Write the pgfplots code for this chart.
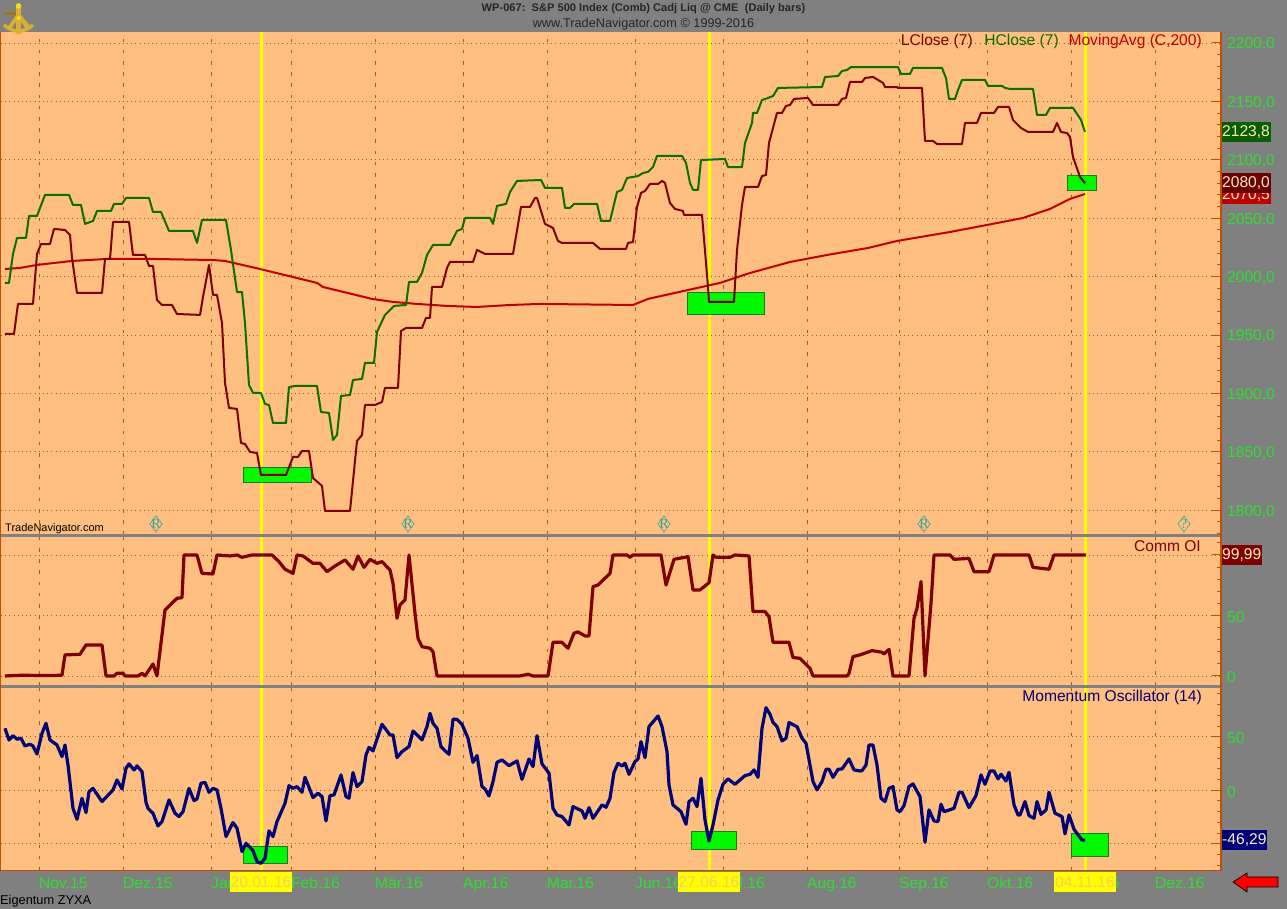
\documentclass[border=0pt]{standalone}
\usepackage{pgfplots}
\pgfplotsset{compat=1.18}
\usepackage{fontspec}
\setmainfont{Liberation Sans}
\newfontfamily\rfont{Liberation Serif}

\definecolor{chartbg}{HTML}{FFBF80}
\definecolor{chrome}{HTML}{808080}
\definecolor{edge}{HTML}{C04F00}
\definecolor{gridc}{HTML}{A85A14}
\definecolor{lbl}{HTML}{2EE02E}
\definecolor{lclose}{HTML}{7F0000}
\definecolor{hclose}{HTML}{0A6E00}
\definecolor{ma}{HTML}{C00000}
\definecolor{navyc}{HTML}{000078}
\definecolor{boxg}{HTML}{00F800}
\definecolor{boxe}{HTML}{1A7A1A}
\definecolor{ye}{HTML}{FFFF00}
\definecolor{yetext}{HTML}{FFC860}
\definecolor{diam}{HTML}{30A898}
\definecolor{tagtext}{HTML}{F4EFC0}
\definecolor{gold}{HTML}{D8B030}
\definecolor{golddark}{HTML}{9A7A10}

\pgfplotsset{
    panel/.style={
        scale only axis,
        width=1220pt,
        xmin=1, xmax=1221,
        axis line style={draw=none},
        axis background/.style={fill=chartbg},
        xtick={39,123,211,291,375,463,547,635,723,807,899,987,1071,1155},
        xticklabels={},
        xmajorgrids, ymajorgrids,
        x grid style={color=gridc, line width=0.9pt, dash pattern=on 3.5pt off 7.7pt},
        y grid style={color=gridc, line width=0.9pt, dash pattern=on 1pt off 3.2pt},
        tick align=inside,
        xtick style={draw=none},
        ytick pos=right,
        ytick style={color=edge, line width=1pt},
        major tick length=9pt,
        minor tick length=4pt,
        yticklabel style={font=\fontsize{15.6}{18}\selectfont, text=lbl, anchor=west, inner sep=0pt, xshift=6pt, yshift=-1.5pt},
    },
    yline/.style={ye, line width=3pt, forget plot},
    hit/.style={fill=boxg, draw=boxe, line width=0.8pt},
    curve/.style={line width=#1, line join=round},
}

\begin{document}
\begin{tikzpicture}
\path[use as bounding box, fill=chrome] (0,0) rectangle (1287pt,909pt);

% price panel
\begin{axis}[panel, at={(1pt,374pt)}, anchor=south west, height=503pt,
    ymin=1778.8, ymax=2209.4,
    ytick={1800,1850,1900,1950,2000,2050,2100,2150,2200},
    yticklabels={{1800,0},{1850,0},{1900,0},{1950,0},{2000,0},{2050,0},{2100,0},{2150,0},{2200,0}},
    minor ytick={1780,1790,...,2200},
]
\addplot[yline] coordinates {(261,1778.8) (261,2209.4)};
\addplot[yline] coordinates {(709,1778.8) (709,2209.4)};
\addplot[yline] coordinates {(1085,1778.8) (1085,2209.4)};
\addplot[hit] coordinates {(243,1824.2) (311,1824.2) (311,1837) (243,1837)} --cycle;
\addplot[hit] coordinates {(687,1968) (764,1968) (764,1986.8) (687,1986.8)} --cycle;
\addplot[hit] coordinates {(1067,2074.2) (1096,2074.2) (1096,2087) (1067,2087)} --cycle;
% 200 bar average
\addplot[ma, curve=2pt] coordinates {
(5,2006.5)(20,2007.4)(37,2010)(72,2013.4)(107,2015.1)(153,2015.1)(213,2014.2)(225,2013.4)
(260,2006.5)(317,1994.6)(323,1991.1)(372,1980.9)(393,1978.3)(417,1976.6)(447,1974.9)(477,1974)
(510,1975.7)(540,1976.6)(633,1975.7)(648,1980.9)(720,1994.6)(750,2003.1)(790,2012.5)(827,2018.5)
(868,2024.5)(897,2030.5)(950,2038.2)(987,2044.2)(1023,2050.2)(1050,2057.9)(1070,2066.5)(1085,2070.7)
};
% highest close
\addplot[hclose, curve=2pt] coordinates {
(5,1994.6)(9,1994.6)(13,2019.4)(17,2033.1)(26,2033.1)(29,2051.9)(37,2051.9)(45,2069.9)(69,2069.9)
(73,2061.3)(81,2061.3)(85,2045.1)(93,2047.6)(97,2056.2)(111,2056.2)(114,2062.2)(122,2062.2)
(126,2067.3)(149,2067.3)(153,2055.3)(161,2055.3)(169,2039.1)(193,2039.1)(197,2028.8)(202,2048.5)
(226,2048.5)(231,2022.8)(237,1986.8)(242,1986.8)(245,1960.3)(249,1907.2)(253,1900.4)(261,1900.4)
(265,1891)(269,1890.1)(273,1874.7)(286,1874.7)(289,1905.5)(295,1906.4)(317,1906.4)(321,1884.1)
(329,1883.3)(333,1860.2)(337,1864.4)(341,1897.8)(350,1898.7)(353,1911.5)(362,1912.4)(365,1926.1)
(374,1926.1)(377,1952.6)(385,1967.2)(394,1974.9)(406,1975.7)(409,1995.4)(417,1995.4)(422,2003.1)
(427,2018.5)(433,2027.1)(450,2027.1)(457,2039.1)(462,2040.8)(465,2050.2)(490,2050.2)(493,2045.1)
(497,2060.5)(506,2062.2)(510,2072.4)(517,2081.9)(541,2082.7)(545,2075.9)(562,2075.9)(565,2058.8)
(570,2058.8)(574,2062.2)(597,2062.2)(601,2047.6)(610,2047.6)(617,2072.4)(622,2074.2)(627,2084.4)
(638,2086.1)(643,2088.7)(648,2089.6)(653,2093.8)(657,2103.3)(682,2103.3)(686,2097.3)(690,2080.2)
(693,2074.2)(698,2074.2)(701,2099.8)(725,2100.7)(728,2093.8)(742,2093.8)(745,2114.4)(752,2131.5)
(753,2140.1)(757,2140.1)(762,2151.2)(768,2152.9)(773,2154.6)(778,2161.5)(822,2162.3)(825,2170.9)
(838,2171.7)(842,2176)(847,2176.9)(851,2179.4)(898,2179.4)(901,2173.5)(910,2173.5)(913,2178.6)
(942,2178.6)(946,2170)(949,2152.1)(955,2152.1)(958,2159.8)(962,2168.3)(985,2168.3)(988,2163.2)
(1002,2163.2)(1005,2161.5)(1010,2160.6)(1033,2160.6)(1037,2138.4)(1046,2138.4)(1050,2144.4)
(1073,2144.4)(1081,2134.1)(1085,2123.8)
};
% lowest close
\addplot[lclose, curve=2pt] coordinates {
(5,1950.9)(14,1950.9)(18,1976.6)(33,1976.6)(37,2019.4)(41,2027.9)(50,2027.9)(54,2040.8)(65,2039.9)
(70,2035.6)(72,2016)(77,1986)(102,1986)(105,2015.1)(110,2015.1)(113,2046.8)(129,2046.8)(133,2018.5)
(145,2018.5)(149,2009.1)(153,2009.1)(157,1980)(162,1975.7)(172,1975.7)(177,1968)(200,1967.2)
(203,1982.6)(209,2010)(213,1984.3)(217,1984.3)(222,1960.3)(225,1909)(229,1887.6)(237,1886.7)
(241,1857.6)(245,1856.7)(250,1849.9)(257,1849)(261,1830.2)(286,1830.2)(293,1845.6)(298,1845.6)
(302,1850.7)(309,1850.7)(313,1827.6)(322,1820.8)(325,1799.4)(350,1799.4)(357,1859.3)(362,1864.4)
(365,1890.1)(375,1890.1)(382,1892.7)(385,1904.7)(398,1904.7)(401,1953.5)(406,1956)(422,1956)
(426,1964.6)(430,1964.6)(432,1991.1)(442,1991.1)(447,2007.4)(450,2012.5)(473,2012.5)(477,2022.8)
(485,2019.4)(513,2019.4)(521,2059.6)(530,2059.6)(535,2067.3)(537,2067.3)(545,2045.1)(553,2041.6)
(558,2030.5)(562,2028.8)(593,2028.8)(600,2023.7)(626,2023.7)(628,2028.8)(633,2029.6)(637,2059.6)
(641,2071.6)(645,2073.3)(650,2079.3)(658,2079.3)(662,2081.9)(665,2080.2)(670,2063)(675,2057.9)
(683,2056.2)(684,2052.8)(702,2052.8)(708,1991.1)(709,1978.3)(734,1978.3)(737,2022.8)(742,2061.3)
(745,2076.7)(758,2076.7)(762,2086.1)(766,2087)(769,2114.4)(777,2140.1)(782,2140.1)(786,2146.1)
(790,2146.9)(794,2152.1)(808,2152.9)(813,2146.9)(838,2146.9)(842,2152.1)(846,2152.9)(850,2166.6)
(862,2166.6)(865,2170)(873,2170.9)(883,2165.8)(885,2162.3)(897,2162.3)(898,2161.5)(922,2161.5)
(925,2116.1)(933,2116.1)(937,2113.5)(962,2113.5)(965,2131.5)(977,2131.5)(981,2140.1)(994,2140.1)
(998,2145.2)(1009,2145.2)(1013,2134.1)(1021,2127.2)(1028,2123.8)(1053,2123.8)(1057,2131.5)
(1061,2123.8)(1067,2122.9)(1070,2119.5)(1073,2102.4)(1080,2085.3)(1085,2080)
};
% event diamonds
\addplot[only marks, mark=diamond, mark size=8pt, mark options={draw=diam, line width=0.9pt, dash pattern=on 1.2pt off 0.8pt, fill=none},
    point meta=explicit symbolic, nodes near coords, nodes near coords align={center},
    every node near coord/.append style={font=\rfont\fontsize{14}{14}\selectfont, text=diam, inner sep=0pt}]
    coordinates {(156,1788.3)[R] (408,1788.3)[R] (664,1788.3)[R] (924,1788.3)[R] (1184,1788.3)[?]};
\end{axis}

% commitment panel
\begin{axis}[panel, at={(1pt,223pt)}, anchor=south west, height=150pt,
    ymin=-8.3, ymax=115.7,
    ytick={0,50,100},
    yticklabels={0,50,},
    minor ytick={10,20,30,40,60,70,80,90,110},
]
\addplot[yline] coordinates {(261,-8.3) (261,115.7)};
\addplot[yline] coordinates {(709,-8.3) (709,115.7)};
\addplot[yline] coordinates {(1085,-8.3) (1085,115.7)};
\addplot[lclose, curve=3.2pt] coordinates {
(5,0)(22,0.6)(47,0.3)(62,0.6)(65,17.4)(80,17.9)(86,25.6)(102,25.6)(106,0)(114,0)(117,2.2)(123,2.2)
(125,0)(138,0)(142,2.2)(145,0)(153,9.9)(157,0)(165,54.5)(177,64.2)(182,64.7)(184,100)(197,100)
(202,84.8)(213,84.3)(217,100)(230,99.2)(237,100)(242,98.1)(252,100)(272,100)(279,94.5)(285,88.2)
(293,84.8)(297,100)(303,99.2)(313,93.1)(320,93.1)(327,86.2)(335,90.9)(345,95.9)(353,88.2)(358,99.2)
(364,89.8)(370,96.4)(377,93.1)(382,94.5)(390,87.6)(393,76.6)(397,47.7)(400,58.7)(405,62.8)(409,100)
(415,51.8)(418,31.1)(422,24.2)(430,22.9)(433,20.1)(437,0)(520,0)(528,1.4)(533,0)(548,0)(553,27.8)
(562,27.8)(568,22.9)(574,35.3)(578,36.4)(585,33.1)(589,33.1)(593,73.8)(598,75.2)(610,84.8)(613,100)
(627,100)(630,98.1)(633,100)(661,100)(666,75.2)(674,96.4)(688,98.6)(693,71.1)(700,71.1)(709,77.1)
(713,100)(716,98.1)(730,98.1)(735,100)(749,99.2)(753,53.2)(765,53.2)(769,49)(773,27.8)(789,27.8)
(793,15.2)(800,14.6)(810,6.3)(813,0)(847,0)(849,2.2)(853,16)(860,17.4)(872,20.9)(882,19.6)(884,18.2)
(889,22)(893,0)(909,0)(914,47.7)(917,55.9)(921,78)(925,0)(931,60)(934,100)(950,100)(954,96.4)
(969,97.2)(974,86.2)(989,86.2)(994,100)(1029,100)(1033,89.8)(1049,88.2)(1054,100)(1086,100)
};
\end{axis}

% momentum panel
\begin{axis}[panel, at={(1pt,38.5pt)}, anchor=south west, height=183.5pt,
    ymin=-75, ymax=96.5,
    ytick={-50,0,50},
    yticklabels={,0,50},
    minor ytick={-70,-60,...,90},
    xticklabels={Nov.15,Dez.15,Jan.16,Feb.16,Mär.16,Apr.16,Mai.16,Jun.16,Jul.16,Aug.16,Sep.16,Okt.16,Nov.16,Dez.16},
    xticklabel style={font=\fontsize{15.6}{18}\selectfont, text=lbl, anchor=base west, inner sep=0pt, yshift=-18pt},
]
\addplot[yline] coordinates {(261,-75) (261,96.5)};
\addplot[yline] coordinates {(709,-75) (709,96.5)};
\addplot[yline] coordinates {(1085,-75) (1085,96.5)};
\addplot[hit] coordinates {(243,-68.4) (287,-68.4) (287,-52.5) (243,-52.5)} --cycle;
\addplot[hit] coordinates {(691,-55.3) (736,-55.3) (736,-38.5) (691,-38.5)} --cycle;
\addplot[hit] coordinates {(1071,-61.9) (1108,-61.9) (1108,-40.4) (1071,-40.4)} --cycle;
\addplot[navyc, curve=3.2pt] coordinates {
(5,57.9)(9,47)(13,51)(17,47.7)(21,48.6)(25,41.4)(30,43)(33,41.4)(37,33.9)(42,53.2)(46,62.6)(50,47)
(57,42.3)(62,31.4)(65,42.3)(68,23.6)(73,-16.9)(77,-27.1)(82,-7.5)(86,-20.9)(89,-1.3)(93,1.8)(102,-10.6)
(113,0.3)(117,9.6)(122,1.2)(126,20.5)(129,24.6)(134,19)(137,22.7)(142,17.4)(146,-11.2)(148,-16.9)
(153,-21.5)(158,-33.4)(162,-29.3)(169,-9.1)(175,-21.5)(179,-24.6)(183,-20)(189,1.8)(194,-9.7)(197,-8.1)
(201,6.5)(205,7.4)(209,-1.9)(213,1.8)(217,0.3)(221,-16.9)(226,-43.3)(233,-30.2)(237,-35.5)(242,-57.3)
(246,-49.6)(253,-56.4)(257,-66.7)(261,-68.3)(265,-63.6)(269,-38)(273,-43.3)(277,-29.3)(285,-12.2)
(289,4.3)(293,1.8)(297,3.4)(302,-1.9)(305,12.1)(313,-6.9)(318,-2.8)(322,-5.9)(326,-28.7)(330,-5)
(334,-4.4)(341,14.3)(346,-5.9)(349,-7.5)(353,16.5)(357,3.4)(362,8.1)(366,33)(369,40.1)(373,36.7)
(382,61.6)(390,51.7)(393,51.7)(397,30.5)(402,36.1)(409,40.8)(413,55.4)(422,47)(427,59.5)(430,71.9)
(433,62.6)(437,57.9)(441,40.8)(445,37)(449,33.6)(453,66.3)(457,66.3)(462,61.6)(468,48.6)(473,26.1)
(477,32.4)(482,3.4)(485,1.2)(489,-5.3)(493,8.1)(497,26.1)(502,28.3)(509,23)(517,27.4)(522,10.2)
(529,29.2)(533,22.1)(537,51)(542,24.6)(549,15.9)(553,-16.9)(557,-23.1)(562,-24.6)(569,-32.4)(573,-15.3)
(582,-19.3)(585,-26.2)(589,-16.2)(593,-26.2)(602,-13.7)(606,-15.9)(610,-7.5)(614,16.8)(618,25.2)
(622,22.7)(625,25.2)(629,14.9)(635,26.8)(638,29.2)(641,45.4)(645,30.5)(649,59.5)(658,69.4)(662,59.5)
(667,36.1)(669,4.9)(673,-13.7)(681,-20)(686,-31.8)(689,-10.6)(693,-7.5)(697,-15.3)(701,11.2)(705,-27.8)
(709,-47.4)(713,-32.4)(718,-9.1)(723,5.6)(728,10.6)(735,5.6)(745,13.7)(750,14.9)(754,19)(758,12.1)
(762,57.9)(766,77.2)(770,71)(773,63.5)(777,59.5)(782,46.1)(786,48.6)(789,63.2)(797,59.5)(802,48.6)
(806,43.9)(813,8.1)(817,0.3)(822,8.1)(826,19.6)(829,19.6)(833,12.1)(838,19.6)(842,19.9)(849,29.2)
(854,19)(860,18)(862,18.3)(866,23.6)(869,42.3)(873,42.3)(877,23.6)(881,-7.5)(885,-10.6)(889,1.8)
(893,3.4)(897,-18.4)(900,-20)(904,-14.4)(909,3.4)(913,5.9)(920,-6)(925,-48.6)(929,-18.4)(934,-28.7)
(938,-29.3)(941,-13.1)(944,-20)(954,-16.9)(959,-1.9)(962,-1.9)(969,-16.2)(976,-5)(981,14.3)(985,5.6)
(990,18)(994,18)(998,10.6)(1001,14.9)(1006,8.7)(1009,16.8)(1014,-13.7)(1018,-23.1)(1020,-23.1)
(1025,-10.6)(1029,-23.7)(1034,-26.2)(1037,-10.6)(1041,-22.5)(1046,-18.4)(1049,-1.9)(1055,-21.5)
(1062,-24.6)(1065,-40.8)(1069,-23.1)(1074,-36.5)(1082,-46.6)(1085,-46.6)
};
\end{axis}

% frame, titles and tags, in reference pixels
\begin{scope}[shift={(0,909pt)}, x=1pt, y=-1pt]
\fill[chrome] (0,534) rectangle (1221,537.2);
\fill[chrome] (0,684.8) rectangle (1221,688);
\fill[edge] (0,32) rectangle (1.3,871.5);
\fill[edge] (0,869.8) rectangle (1222,871.5);
\fill[edge] (1220.4,32) rectangle (1222,871.5);

\node[font=\bfseries\fontsize{11.1}{13}\selectfont, text=black!85] at (643.5,9) {WP-067:\ \ S\&P 500 Index (Comb) Cadj Liq @ CME\ \ (Daily bars)};
\node[font=\fontsize{12.7}{15}\selectfont, text=black!85] at (643.5,24.5) {www.TradeNavigator.com © 1999-2016};

\node[anchor=east, inner sep=0, font=\fontsize{15.6}{18}\selectfont, text=lclose] at (973,41.5) {LClose (7)};
\node[anchor=east, inner sep=0, font=\fontsize{15.6}{18}\selectfont, text=hclose] at (1059,41.5) {HClose (7)};
\node[anchor=east, inner sep=0, font=\fontsize{15.6}{18}\selectfont, text=ma] at (1202,41.5) {MovingAvg (C,200)};
\node[anchor=east, inner sep=0, font=\fontsize{15.6}{18}\selectfont, text=lclose] at (1201,546.5) {Comm OI};
\node[anchor=east, inner sep=0, font=\fontsize{15.6}{18}\selectfont, text=navyc] at (1202,697.5) {Momentum Oscillator (14)};
\node[anchor=west, inner sep=0, font=\fontsize{11}{13}\selectfont, text=black] at (5,529) {TradeNavigator.com};
\node[anchor=west, inner sep=0, font=\fontsize{12.8}{15}\selectfont, text=black] at (0,901.5) {Eigentum ZYXA};

% value tags on the right
\fill[ma] (1222,185) rectangle (1271,204);
\node[anchor=west, inner sep=0, font=\fontsize{15.6}{18}\selectfont, text=tagtext] at (1222,195) {2070,5};
\fill[hclose!85!black] (1222,122) rectangle (1271,142);
\node[anchor=west, inner sep=0, font=\fontsize{15.6}{18}\selectfont, text=tagtext] at (1222,132.5) {2123,8};
\fill[lclose!85!black] (1222,173) rectangle (1271,193);
\node[anchor=west, inner sep=0, font=\fontsize{15.6}{18}\selectfont, text=tagtext] at (1222,183.5) {2080,0};
\fill[lclose] (1222,545) rectangle (1262,565);
\node[anchor=west, inner sep=0, font=\fontsize{15.6}{18}\selectfont, text=tagtext] at (1222,555.5) {99,99};
\fill[navyc] (1222,830) rectangle (1267,850);
\node[anchor=west, inner sep=0, font=\fontsize{15.6}{18}\selectfont, text=tagtext] at (1222,840.5) {-46,29};

% date flags under the yellow lines
\fill[ye] (230,872) rectangle (292,892);
\node[inner sep=0, font=\fontsize{15.6}{18}\selectfont, text=yetext] at (261,882.5) {20.01.16};
\fill[ye] (678,872) rectangle (740,892);
\node[inner sep=0, font=\fontsize{15.6}{18}\selectfont, text=yetext] at (709,882.5) {27.06.16};
\fill[ye] (1054,872) rectangle (1116,892);
\node[inner sep=0, font=\fontsize{15.6}{18}\selectfont, text=yetext] at (1085,882.5) {04.11.16};

% arrow
\draw[black, line width=0.7pt, fill=red] (1233,882) -- (1247,873) -- (1247,877) -- (1278,877) -- (1278,887) -- (1247,887) -- (1247,892) -- cycle;

% sextant logo
\draw[line width=3pt, color=golddark] (5,14) -- (18,14);
\fill[gold] (16,5) rectangle (21,30);
\fill[gold] (18.5,12) -- (7,28) -- (11,29) -- (18.5,18) -- (26,29) -- (31,27) -- cycle;
\draw[line width=3.5pt, color=gold] (4,25) .. controls (12,33) and (25,33) .. (33,25);
\fill[gold] (18.5,31) circle (3.5);
\fill[yellow!70!gold] (18.5,6) circle (2.8);
\fill[yellow!70!gold] (18.5,18) circle (2);
\end{scope}
\end{tikzpicture}
\end{document}
